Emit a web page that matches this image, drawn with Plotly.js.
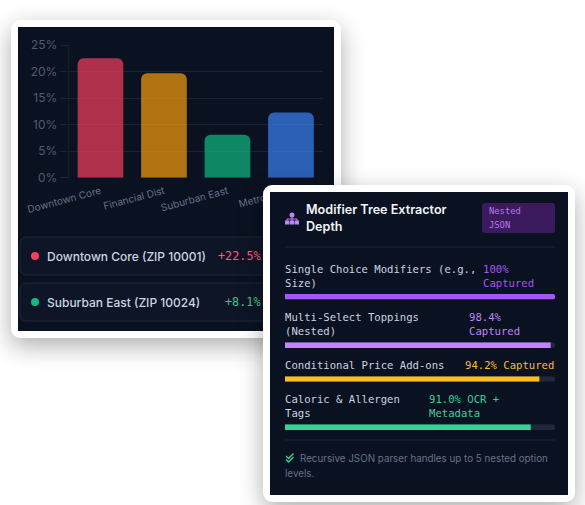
<!DOCTYPE html>
<html><head><meta charset="utf-8">
<script src="https://cdn.plot.ly/plotly-3.0.1.min.js"></script>
<style>
html,body{margin:0;padding:0;background:#fff;width:585px;height:505px;overflow:hidden}
.card{position:absolute;border:7px solid #fff;border-radius:9px;background:#0a1120;box-sizing:content-box;box-shadow:0 8px 24px rgba(0,0,0,.32)}
#c1{left:11px;top:20px;width:316px;height:304px}
#c2{left:263px;top:185px;width:298px;height:303px}
</style></head><body>
<div id="c1" class="card"></div>
<div id="c2" class="card"></div>
<script>
// ---- data ----
const regions = ['Downtown Core','Financial Dist','Suburban East','Metro West'];
const growth = [22.5,19.7,8.1,12.3];
const barColors = ['rgba(244,63,94,0.7)','rgba(245,158,11,0.7)','rgba(16,185,129,0.7)','rgba(59,130,246,0.7)'];
const rowNames = ['Downtown Core (ZIP 10001)','Suburban East (ZIP 10024)'];
const rowValues = ['+22.5%','+8.1%'];
const rowColors = ['#f43f5e','#10b981'];
const rowValueColors = ['#f4607c','#34c78f'];
const cardTitle = ['Modifier Tree Extractor','Depth'];
const badge = ['Nested','JSON'];
const fields = ['Single Choice Modifiers (e.g.,|Size)','Multi-Select Toppings|(Nested)','Conditional Price Add-ons','Caloric & Allergen|Tags'];
const captureText = ['100%|Captured','98.4%|Captured','94.2% Captured','91.0% OCR +|Metadata'];
const capture = [100,98.4,94.2,91.0];
const track = [100,100,100,100];
const captureColors = ['#a855f7','#c084fc','#fbbf24','#34d399'];
const footnote = ['Recursive JSON parser handles up to 5 nested option','levels.'];

const SANS='Inter, sans-serif', MONO='"DejaVu Sans Mono", monospace';
function helpers(left,top,W,H){
  const fx=p=>(p-left)/W, fy=p=>1-(p-top)/H;
  return {
    fx,fy,
    text:(t,x,y,size,color,fam,weight,anchor)=>({text:t,xref:'paper',yref:'paper',x:fx(x),y:fy(y),xanchor:anchor||'left',yanchor:'middle',showarrow:false,align:'left',borderpad:0,borderwidth:0,font:{family:fam||SANS,size,color,weight:weight||400}}),
    rrect:(x0,y0,x1,y1,r,fill,line,layer)=>{
      const P=(x,y)=>fx(x)+' '+fy(y);
      const c=(x,y)=>`Q ${P(x,y)} `;
      return {type:'path',xref:'paper',yref:'paper',layer:layer||'below',fillcolor:fill,line:{color:line||'rgba(0,0,0,0)',width:line?1:0},
        path:`M ${P(x0+r,y0)} L ${P(x1-r,y0)} ${c(x1,y0)}${P(x1,y0+r)} L ${P(x1,y1-r)} ${c(x1,y1)}${P(x1-r,y1)} L ${P(x0+r,y1)} ${c(x0,y1)}${P(x0,y1-r)} L ${P(x0,y0+r)} ${c(x0,y0)}${P(x0+r,y0)} Z`};
    },
    poly:(pts,opts)=>Object.assign({type:'path',xref:'paper',yref:'paper',layer:'above',path:pts.map((p,i)=>(i?'L ':'M ')+fx(p[0])+' '+fy(p[1])).join(' ')},opts)
  };
}

// ---- card 1 ----
(function(){
  const L=18,T=27,W=316,H=304,h=helpers(L,T,W,H);
  const grid='#1a2334';
  const shapes=[],ann=[];
  const rowTop=[237,283],rowBot=[275,321],mid=[256,302];
  rowNames.forEach((n,i)=>{
    shapes.push(h.rrect(20,rowTop[i],326,rowBot[i],7,'#0d1526','#1e293b'));
    shapes.push({type:'circle',xref:'paper',yref:'paper',layer:'above',fillcolor:rowColors[i],line:{width:0},x0:h.fx(31),x1:h.fx(39),y0:h.fy(mid[i]+4),y1:h.fy(mid[i]-4)});
    ann.push(h.text(n,47,mid[i],12,'#cbd5e1',SANS,500));
    ann.push(h.text(rowValues[i],261,mid[i],11.8,rowValueColors[i],MONO,500,'right'));
  });
  Plotly.newPlot('c1',[{type:'bar',x:regions,y:growth,marker:{color:barColors,cornerradius:6,line:{width:0}},width:0.72,hoverinfo:'skip'}],{
    width:W,height:H,margin:{l:0,r:0,t:0,b:0,pad:0},paper_bgcolor:'#0a1120',plot_bgcolor:'#0a1120',showlegend:false,
    xaxis:{domain:[h.fx(68.7),h.fx(322.7)],anchor:'y',type:'category',tickangle:-15,ticklabelstandoff:5,tickfont:{family:SANS,size:10,color:'#64748b'},showgrid:false,zeroline:false,showline:false,ticks:''},
    yaxis:{domain:[h.fy(177.7),h.fy(45)],anchor:'x',range:[0,25],dtick:5,ticksuffix:'%',tickfont:{family:SANS,size:12,color:'#4f5d73'},gridcolor:grid,gridwidth:1,zeroline:false,showline:true,linecolor:'#141c2b',ticks:'outside',ticklen:8,tickcolor:grid},
    shapes,annotations:ann
  },{staticPlot:true,displayModeBar:false});
})();

// ---- card 2 ----
(function(){
  const L=270,T=192,W=298,H=303,h=helpers(L,T,W,H);
  const shapes=[],ann=[];
  const barTop=[294,342.3,376.2,424.3],barH=5.6;
  const labelY=[269,317,365,399], valX=[483,469,465,429];
  // header
  cardTitle.forEach((t,i)=>ann.push(h.text(t,306,[209,227][i],12.6,'#f1f5f9',SANS,600)));
  shapes.push(h.rrect(482,203,555,233,3,'#3b1a5e'));
  badge.forEach((t,i)=>ann.push(h.text(t,489,[211,225][i],8.8,'#b57bee',MONO,500)));
  const ic={fillcolor:'#c084fc',line:{width:0}};
  const box=(x0,y0,x1,y1)=>h.poly([[x0,y0],[x1,y0],[x1,y1],[x0,y1]],ic);
  shapes.push({type:'circle',xref:'paper',yref:'paper',layer:'above',fillcolor:'#c084fc',line:{width:0},x0:h.fx(289.5),x1:h.fx(294.5),y0:h.fy(217.5),y1:h.fy(212.5)});
  shapes.push(box(285,220.5,289.5,224.5),box(290,220.5,294,224.5),box(294.5,220.5,299,224.5));
  const l={line:{color:'#c084fc',width:1}};
  shapes.push(h.poly([[292,217],[292,221]],l),h.poly([[287,221],[287,219],[297,219],[297,221]],Object.assign({fillcolor:'rgba(0,0,0,0)'},l)));
  shapes.push(h.poly([[285,247],[555,247]],{layer:'below',line:{color:'#1a2536',width:1}}));
  // rows
  fields.forEach((f,i)=>{
    f.split('|').forEach((t,j)=>ann.push(h.text(t,285,labelY[i]+j*14.2,10.6,'#cbd5e1',MONO)));
    captureText[i].split('|').forEach((t,j)=>ann.push(h.text(t,valX[i],labelY[i]+j*14.2,10.6,captureColors[i],MONO)));
  });
  // footer
  shapes.push(h.poly([[285,440],[555,440]],{layer:'below',line:{color:'#1a2536',width:1}}));
  const ck={fillcolor:'rgba(0,0,0,0)',line:{color:'#34d399',width:1.3}};
  shapes.push(h.poly([[286,456],[288.5,458.5],[293.5,453.5]],ck),h.poly([[286,459.5],[288.5,462],[293.5,457]],ck));
  ann.push(h.text(footnote[0],300,458,9.8,'#64748b'));
  ann.push(h.text(footnote[1],285,473,9.8,'#64748b'));

  const traces=[],layout={width:W,height:H,margin:{l:0,r:0,t:0,b:0,pad:0},paper_bgcolor:'#0a1120',plot_bgcolor:'rgba(0,0,0,0)',showlegend:false,barmode:'overlay',
    xaxis:{domain:[h.fx(285),h.fx(555)],range:[0,100],anchor:'y',visible:false,fixedrange:true},shapes,annotations:ann};
  capture.forEach((v,i)=>{
    const ya=i?'y'+(i+1):'y', key=i?'yaxis'+(i+1):'yaxis';
    layout[key]={domain:[h.fy(barTop[i]+barH),h.fy(barTop[i])],range:[-0.5,0.5],anchor:'x',visible:false,fixedrange:true};
    traces.push({type:'bar',orientation:'h',x:[track[i]],y:[0],xaxis:'x',yaxis:ya,width:1,marker:{color:'#1e293b',cornerradius:3,line:{width:0}},hoverinfo:'skip'});
    traces.push({type:'bar',orientation:'h',x:[v],y:[0],xaxis:'x',yaxis:ya,width:1,marker:{color:captureColors[i],cornerradius:3,line:{width:0}},hoverinfo:'skip'});
  });
  Plotly.newPlot('c2',traces,layout,{staticPlot:true,displayModeBar:false});
})();
</script>
</body></html>
